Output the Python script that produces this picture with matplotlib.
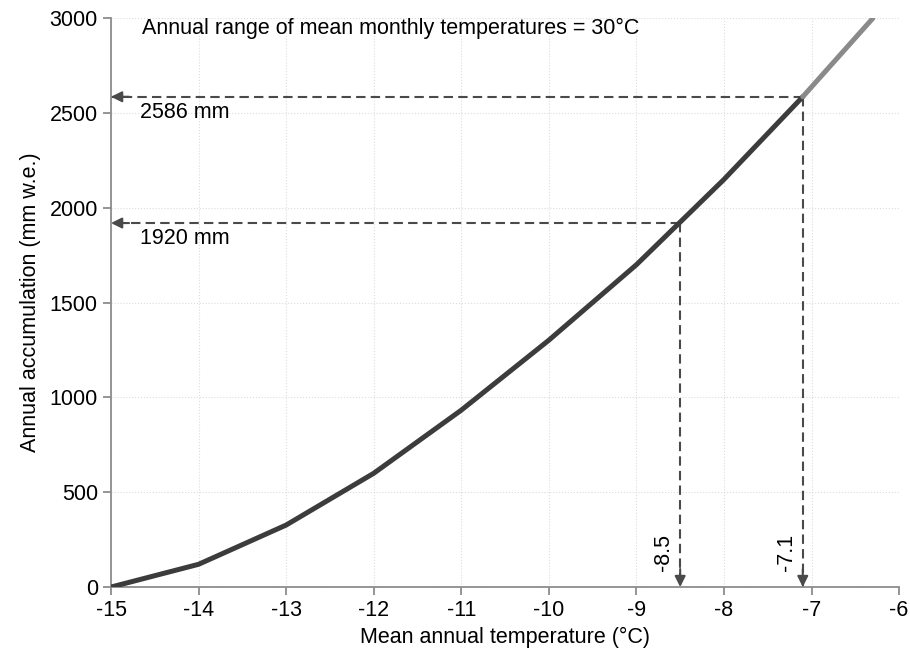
import matplotlib.pyplot as plt

plt.rcParams['font.family'] = ['Liberation Sans', 'DejaVu Sans']
plt.rcParams['axes.unicode_minus'] = False

# curve
temps = [-15, -14, -13, -12, -11, -10, -9, -8, -7.1]
accum = [0, 120, 327, 600, 933, 1302, 1700, 2150, 2586]
temps_ext = [-7.1, -6.3]
accum_ext = [2586, 3000]

# marked cases: (temperature, accumulation)
marks = [(-8.5, 1920), (-7.1, 2586)]

dark = '#3c3c3c'
dash_col = '#4a4a4a'
axis_grey = '#8c8c8c'
fs = 15.5

fig = plt.figure(figsize=(9.1, 6.53), dpi=100)
ax = fig.add_axes([0.122, 0.101, 0.866, 0.871])

ax.plot(temps, accum, color=dark, lw=3.6, solid_capstyle='round', zorder=3)
ax.plot(temps_ext, accum_ext, color='#8a8a8a', lw=3.6, solid_capstyle='round', zorder=3)

for t, a in marks:
    # horizontal dashed line to the y axis
    ax.plot([t, -15], [a, a], ls=(0, (4.5, 2.5)), color=dash_col, lw=1.5, zorder=2)
    ax.annotate('', xy=(-15, a), xytext=(13, 0), textcoords='offset points',
                arrowprops=dict(arrowstyle='-|>', color=dash_col, lw=1.5,
                                mutation_scale=16, shrinkA=0, shrinkB=0))
    # vertical dashed line to the x axis
    ax.plot([t, t], [a, 0], ls=(0, (4.5, 2.5)), color=dash_col, lw=1.5, zorder=2)
    ax.annotate('', xy=(t, 0), xytext=(0, 13), textcoords='offset points',
                arrowprops=dict(arrowstyle='-|>', color=dash_col, lw=1.5,
                                mutation_scale=16, shrinkA=0, shrinkB=0))
    ax.text(-14.67, a - 25, f'{a} mm', fontsize=fs, va='top', ha='left')
    ax.text(t - 0.07, 85, f'{t}', fontsize=fs, rotation=90, ha='right', va='bottom')

ax.text(-14.65, 2945, 'Annual range of mean monthly temperatures = 30\u00b0C',
        fontsize=fs, va='center', ha='left')

ax.set_xlim(-15, -6)
ax.set_ylim(0, 3000)
ax.set_xticks(range(-15, -5))
ax.set_yticks(range(0, 3001, 500))
ax.grid(True, color='#dcdcdc', ls=':', lw=0.8)
ax.set_axisbelow(True)

for side in ['top', 'right']:
    ax.spines[side].set_visible(False)
for side in ['left', 'bottom']:
    ax.spines[side].set_color(axis_grey)
    ax.spines[side].set_linewidth(1.3)
ax.tick_params(colors=axis_grey, labelcolor='black', labelsize=fs, length=6, width=1.3)

ax.set_xlabel('Mean annual temperature (\u00b0C)', fontsize=fs, labelpad=4)
ax.set_ylabel('Annual accumulation (mm w.e.)', fontsize=fs, labelpad=6)

fig.savefig('out.png', dpi=100)
